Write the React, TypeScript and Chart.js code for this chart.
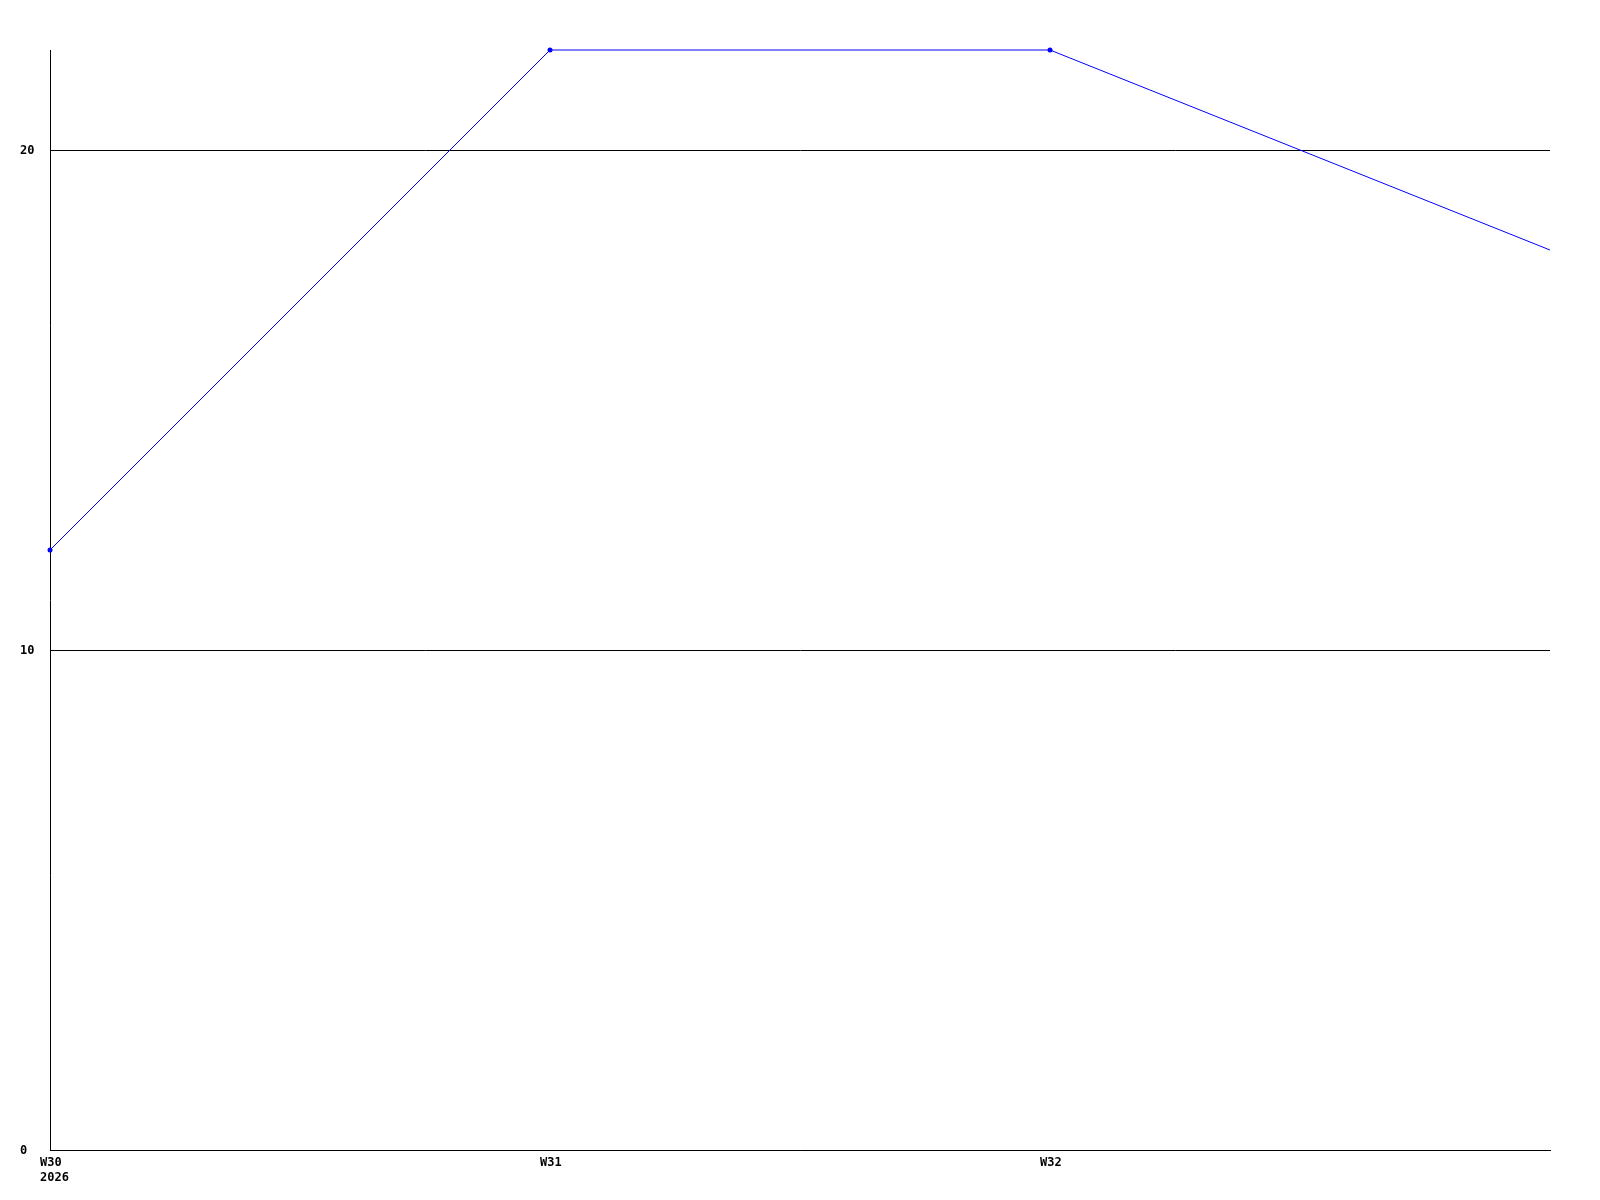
import React, { useEffect, useRef } from "react";
import { Chart, registerables } from "chart.js";

Chart.register(...registerables);

const categories = ["W30", "W31", "W32", "W33"];
const xTickLabels: (string | string[])[] = [["W30", "2026"], "W31", "W32", ""];
const seriesValues = [12, 22, 22, 18];
const yMin = 0;
const yMax = 22;
const yStep = 10;

export default function App() {
  const ref = useRef<HTMLCanvasElement | null>(null);

  useEffect(() => {
    if (!ref.current) return;
    const font = { family: "'DejaVu Sans Mono', monospace", size: 12, weight: "bold" as const, lineHeight: "15px" };
    const chart = new Chart(ref.current, {
      type: "line",
      data: {
        labels: categories,
        datasets: [
          {
            data: seriesValues,
            borderColor: "#0000ff",
            backgroundColor: "#0000ff",
            borderWidth: 1,
            pointRadius: [2.5, 2.5, 2.5, 0],
            pointBorderWidth: 0,
            pointBackgroundColor: "#0000ff",
            tension: 0,
            fill: false,
            clip: false as any,
          },
        ],
      },
      options: {
        animation: false,
        responsive: false,
        devicePixelRatio: 1,
        layout: { padding: { left: 20, top: 50, right: 50, bottom: 0 } },
        plugins: { legend: { display: false }, tooltip: { enabled: false } },
        scales: {
          x: {
            type: "category",
            grid: { display: false, drawTicks: false },
            border: { display: true, color: "#000000", width: 1 },
            ticks: {
              autoSkip: false,
              maxRotation: 0,
              minRotation: 0,
              align: "start",
              labelOffset: -10,
              padding: 5,
              color: "#000000",
              font,
              callback: (_v: any, i: number) => xTickLabels[i],
            },
            afterFit: (s: any) => {
              s.height = 50;
            },
          },
          y: {
            type: "linear",
            min: yMin,
            max: yMax,
            grid: { display: true, color: "#000000", lineWidth: 1, drawTicks: false },
            border: { display: true, color: "#000000", width: 1 },
            ticks: {
              stepSize: yStep,
              includeBounds: false,
              crossAlign: "far",
              padding: 0,
              labelOffset: 1,
              color: "#000000",
              font,
            },
            afterFit: (s: any) => {
              s.width = 30;
            },
          },
        },
      },
    });
    return () => chart.destroy();
  }, []);

  return (
    <div style={{ position: "fixed", left: 0, top: 0, width: 1600, height: 1200, background: "#ffffff" }}>
      <canvas ref={ref} width={1600} height={1200} style={{ display: "block" }} />
    </div>
  );
}
